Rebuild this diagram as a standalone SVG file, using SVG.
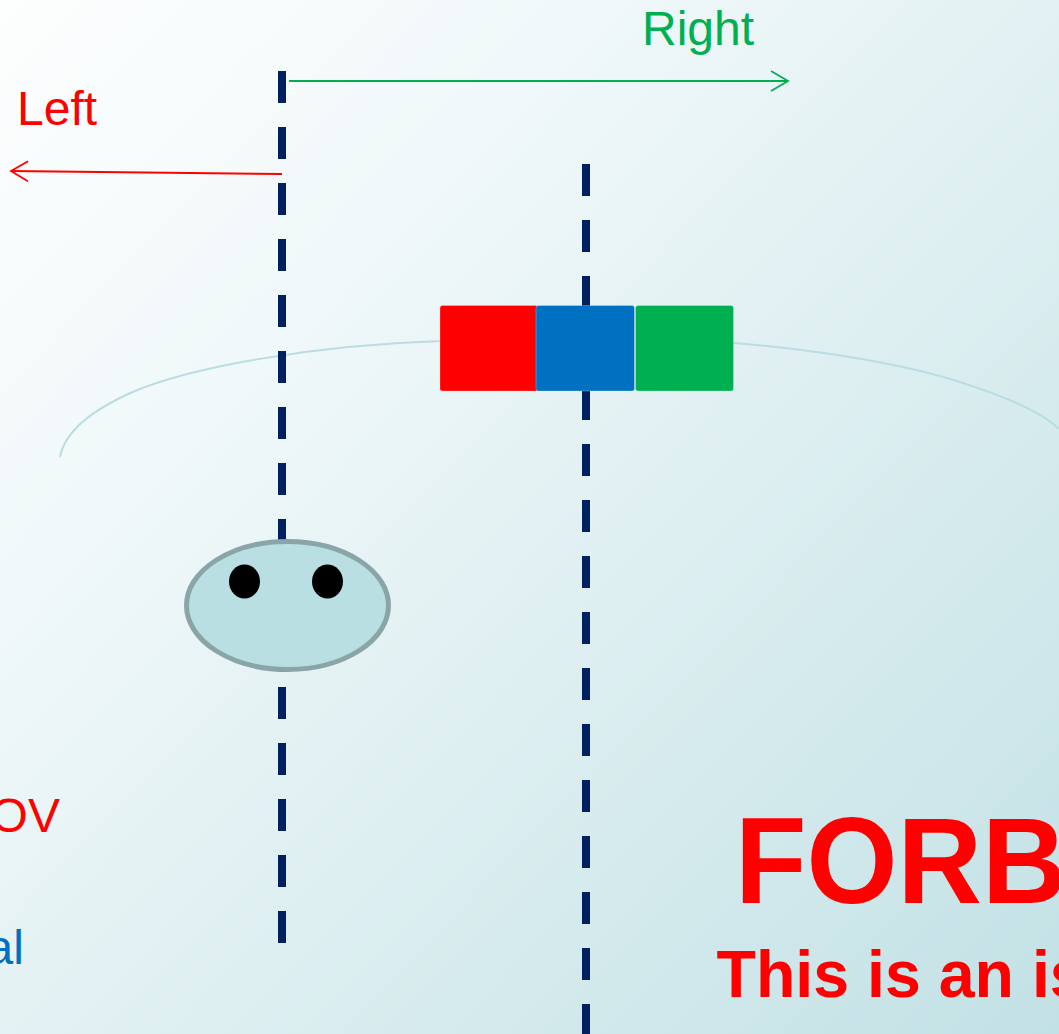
<svg xmlns="http://www.w3.org/2000/svg" width="1059" height="1034" viewBox="0 0 1059 1034">
<style>
.t{font-family:"Liberation Sans",Arial,sans-serif}
.dash{stroke:#002060;stroke-width:8;stroke-dasharray:32 24;fill:none}
.arc{fill:none;stroke:#b9dde1;stroke-width:2}
.r{stroke:#fff;stroke-opacity:.25;stroke-width:1}
</style>
<defs>
<linearGradient id="bg" gradientUnits="userSpaceOnUse" x1="0" y1="0" x2="1059" y2="1034">
<stop offset="0" stop-color="#fdfefe"/><stop offset="0.300" stop-color="#f0f8f9"/><stop offset="1" stop-color="#c2e1e5"/>
</linearGradient>
<marker id="ag" markerUnits="userSpaceOnUse" markerWidth="22" markerHeight="24" refX="18" refY="11" orient="auto"><path d="M1 1L18 11L1 21" fill="none" stroke="#00b050" stroke-width="1.800"/></marker>
<marker id="ar" markerUnits="userSpaceOnUse" markerWidth="22" markerHeight="24" refX="18" refY="11" orient="auto"><path d="M1 1L18 11L1 21" fill="none" stroke="#f00" stroke-width="1.800"/></marker>
</defs>
<rect id="background" width="1059" height="1034" fill="url(#bg)"/>
<g id="connectors">
<path class="arc" d="M60 457C66 425 105 404 135 391C190 368 310 345 442 341"/>
<path class="arc" d="M733 343C800 348 900 362 963 383C1000 395 1040 410 1059 429"/>
<path class="dash" d="M282 71V943"/>
<path class="dash" d="M586 164V1034"/>
<path d="M289 81H788" stroke="#00b050" stroke-width="2" fill="none" marker-end="url(#ag)"/>
<path d="M282 174L11 171" stroke="#f00" stroke-width="2" fill="none" marker-end="url(#ar)"/>
</g>
<g id="block-red"><rect class="r" x="440" y="305.500" width="98" height="85.500" rx="2.500" fill="#f00"/></g>
<g id="block-blue"><rect class="r" x="536" y="305.500" width="98.500" height="85.500" rx="2.500" fill="#0070c0"/></g>
<g id="block-green"><rect class="r" x="635.500" y="305.500" width="98" height="85.500" rx="2.500" fill="#00b050"/></g>
<g id="head">
<ellipse cx="287.500" cy="605.500" rx="101" ry="64" fill="#b9dfe3" stroke="#8aa5a8" stroke-width="5"/>
<ellipse cx="244.500" cy="581.500" rx="15.500" ry="17"/>
<ellipse cx="327.500" cy="581.500" rx="15.500" ry="17"/>
</g>
<g id="labels" class="t">
<text x="17" y="125" font-size="48" fill="#f00">Left</text>
<text x="642" y="44.500" font-size="48" fill="#00b050">Right</text>
<text x="-9.400" y="832" font-size="48" fill="#f00">OV</text>
<text x="-13.400" y="964" font-size="48" fill="#0070c0">al</text>
<text transform="translate(735 902.500) scale(1 1.040)" font-size="117" font-weight="700" fill="#f00">FORB</text>
<text transform="translate(716.500 997.300) scale(1 1.030)" font-size="64.500" font-weight="700" fill="#f00">This is an is</text>
</g>
</svg>
